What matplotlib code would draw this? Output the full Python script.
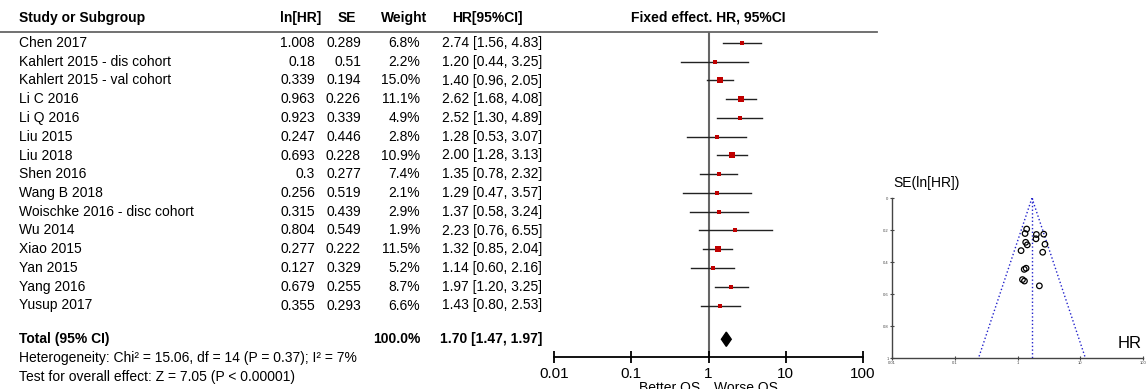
import numpy as np
import matplotlib
matplotlib.use("Agg")
import matplotlib.pyplot as plt

plt.rcParams['font.family'] = ['Liberation Sans', 'DejaVu Sans']

studies = ["Chen 2017", "Kahlert 2015 - dis cohort", "Kahlert 2015 - val cohort",
           "Li C 2016", "Li Q 2016", "Liu 2015", "Liu 2018", "Shen 2016",
           "Wang B 2018", "Woischke 2016 - disc cohort", "Wu 2014", "Xiao 2015",
           "Yan 2015", "Yang 2016", "Yusup 2017"]
ln_hr_txt = ["1.008", "0.18", "0.339", "0.963", "0.923", "0.247", "0.693", "0.3",
             "0.256", "0.315", "0.804", "0.277", "0.127", "0.679", "0.355"]
se_txt = ["0.289", "0.51", "0.194", "0.226", "0.339", "0.446", "0.228", "0.277",
          "0.519", "0.439", "0.549", "0.222", "0.329", "0.255", "0.293"]
weight = [6.8, 2.2, 15.0, 11.1, 4.9, 2.8, 10.9, 7.4, 2.1, 2.9, 1.9, 11.5, 5.2, 8.7, 6.6]
hr = [2.74, 1.20, 1.40, 2.62, 2.52, 1.28, 2.00, 1.35, 1.29, 1.37, 2.23, 1.32, 1.14, 1.97, 1.43]
ci_lo = [1.56, 0.44, 0.96, 1.68, 1.30, 0.53, 1.28, 0.78, 0.47, 0.58, 0.76, 0.85, 0.60, 1.20, 0.80]
ci_hi = [4.83, 3.25, 2.05, 4.08, 4.89, 3.07, 3.13, 2.32, 3.57, 3.24, 6.55, 2.04, 2.16, 3.25, 2.53]
total_hr, total_lo, total_hi = 1.70, 1.47, 1.97
headers = ["Study or Subgroup", "ln[HR]", "SE", "Weight", "HR[95%CI]", "Fixed effect. HR, 95%CI"]
xticks = [0.01, 0.1, 1, 10, 100]
xtick_labels = ["0.01", "0.1", "1", "10", "100"]
funnel_yticks = [0, 0.2, 0.4, 0.6, 0.8, 1]

W, H = 1148, 389
fig = plt.figure(figsize=(W / 100, H / 100), dpi=100)

# row mapping: pixel y = 43 + 18.75*row
y0, dy = 43.0, 18.75
def row_of(py):
    return (py - y0) / dy

main = fig.add_axes([0, 0, 1, 1])
main.set_xlim(0, W)
main.set_ylim(row_of(H), row_of(0))
main.axis('off')

fs = 10
n = len(studies)
rows = np.arange(n)
total_row = 15.8

# headers
hrow = row_of(18)
main.text(19, hrow, headers[0], fontsize=fs, fontweight='bold', va='center', ha='left')
main.text(321, hrow, headers[1], fontsize=fs, fontweight='bold', va='center', ha='right')
main.text(356, hrow, headers[2], fontsize=fs, fontweight='bold', va='center', ha='right')
main.text(427, hrow, headers[3], fontsize=fs, fontweight='bold', va='center', ha='right')
main.text(487, hrow, headers[4], fontsize=fs, fontweight='bold', va='center', ha='center')
main.text(708, hrow, headers[5], fontsize=fs, fontweight='bold', va='center', ha='center')
main.plot([0, 877], [row_of(32), row_of(32)], color='#666666', lw=1.3)

for i in range(n):
    main.text(19, rows[i], studies[i], fontsize=fs, va='center', ha='left')
    main.text(315, rows[i], ln_hr_txt[i], fontsize=fs, va='center', ha='right')
    main.text(361, rows[i], se_txt[i], fontsize=fs, va='center', ha='right')
    main.text(420, rows[i], f"{weight[i]:.1f}%", fontsize=fs, va='center', ha='right')
    main.text(542, rows[i], f"{hr[i]:.2f} [{ci_lo[i]:.2f}, {ci_hi[i]:.2f}]",
              fontsize=fs, va='center', ha='right')

main.text(19, total_row, "Total (95% CI)", fontsize=fs, fontweight='bold', va='center', ha='left')
main.text(420, total_row, f"{sum(weight):.1f}%", fontsize=fs, fontweight='bold', va='center', ha='right')
main.text(542, total_row, f"{total_hr:.2f} [{total_lo:.2f}, {total_hi:.2f}]",
          fontsize=fs, fontweight='bold', va='center', ha='right')
main.text(19, row_of(358), "Heterogeneity: Chi\u00b2 = 15.06, df = 14 (P = 0.37); I\u00b2 = 7%",
          fontsize=fs, va='center', ha='left')
main.text(19, row_of(377), "Test for overall effect: Z = 7.05 (P < 0.00001)",
          fontsize=fs, va='center', ha='left')
main.text(700, row_of(388), "Better OS", fontsize=fs, va='center', ha='right')
main.text(714, row_of(388), "Worse OS", fontsize=fs, va='center', ha='left')

# forest axes
left_px, right_px, top_px, bot_px = 554, 863, 32, 357
fa = fig.add_axes([left_px / W, 1 - bot_px / H, (right_px - left_px) / W, (bot_px - top_px) / H])
fa.set_xscale('log')
fa.set_xlim(0.01, 100)
fa.set_ylim(row_of(bot_px), row_of(top_px))
fa.patch.set_alpha(0)
for s in ['top', 'right', 'left']:
    fa.spines[s].set_visible(False)
fa.spines['bottom'].set_linewidth(1.3)
fa.set_yticks([])
fa.set_xticks(xticks)
fa.set_xticklabels(xtick_labels, fontsize=fs + 1)
fa.xaxis.set_minor_locator(matplotlib.ticker.NullLocator())
fa.tick_params(axis='x', direction='inout', length=9, width=1.3, pad=3)
fa.axvline(1, color='#666666', lw=1.5, zorder=1)

for i in range(n):
    fa.plot([ci_lo[i], ci_hi[i]], [rows[i], rows[i]], color='#222222', lw=1.0, zorder=2)
    side_px = max(3.2, 1.65 * np.sqrt(weight[i]))
    fa.plot(hr[i], rows[i], marker='s', color='#c00000', markersize=side_px * 0.72,
            markeredgewidth=0, zorder=3)

dh = 0.38
fa.fill([total_lo, total_hr, total_hi, total_hr],
        [total_row, total_row - dh, total_row, total_row + dh], color='black', zorder=3)

# funnel plot
fl, fr, ft, fb = 892, 1143, 198, 358
fp = fig.add_axes([fl / W, 1 - fb / H, (fr - fl) / W, (fb - ft) / H])
fp.set_xscale('log')
fp.set_xlim(0.01, 100)
fp.set_ylim(1, 0)
fp.patch.set_alpha(0)
fp.spines['top'].set_visible(False)
fp.spines['right'].set_visible(False)
for s in ['left', 'bottom']:
    fp.spines[s].set_linewidth(1.0)
    fp.spines[s].set_color('#444444')
fp.set_xticks(xticks)
fp.set_xticklabels(xtick_labels, fontsize=3)
fp.xaxis.set_minor_locator(matplotlib.ticker.NullLocator())
fp.set_yticks(funnel_yticks)
fp.set_yticklabels([f"{v:g}" for v in funnel_yticks], fontsize=3)
fp.tick_params(axis='both', direction='inout', length=3, width=0.8, pad=1, colors='#444444')

se_vals = np.array([float(s) for s in se_txt])
hr_vals = np.array(hr)
fp.scatter(hr_vals, se_vals, s=16, facecolors='none', edgecolors='black', linewidths=0.9, zorder=3)
se_line = np.array([0.0, 1.0])
fp.plot(total_hr * np.exp(-1.96 * se_line), se_line, color='#2222cc', lw=1.0, ls=':')
fp.plot(total_hr * np.exp(1.96 * se_line), se_line, color='#2222cc', lw=1.0, ls=':')
fp.plot([total_hr, total_hr], [0, 1], color='#2222cc', lw=1.0, ls=':')

main.text(893, row_of(183), "SE(ln[HR])", fontsize=fs, va='center', ha='left')
main.text(1142, row_of(343), "HR", fontsize=fs + 2, va='center', ha='right')

fig.savefig("out.png", dpi=100)
